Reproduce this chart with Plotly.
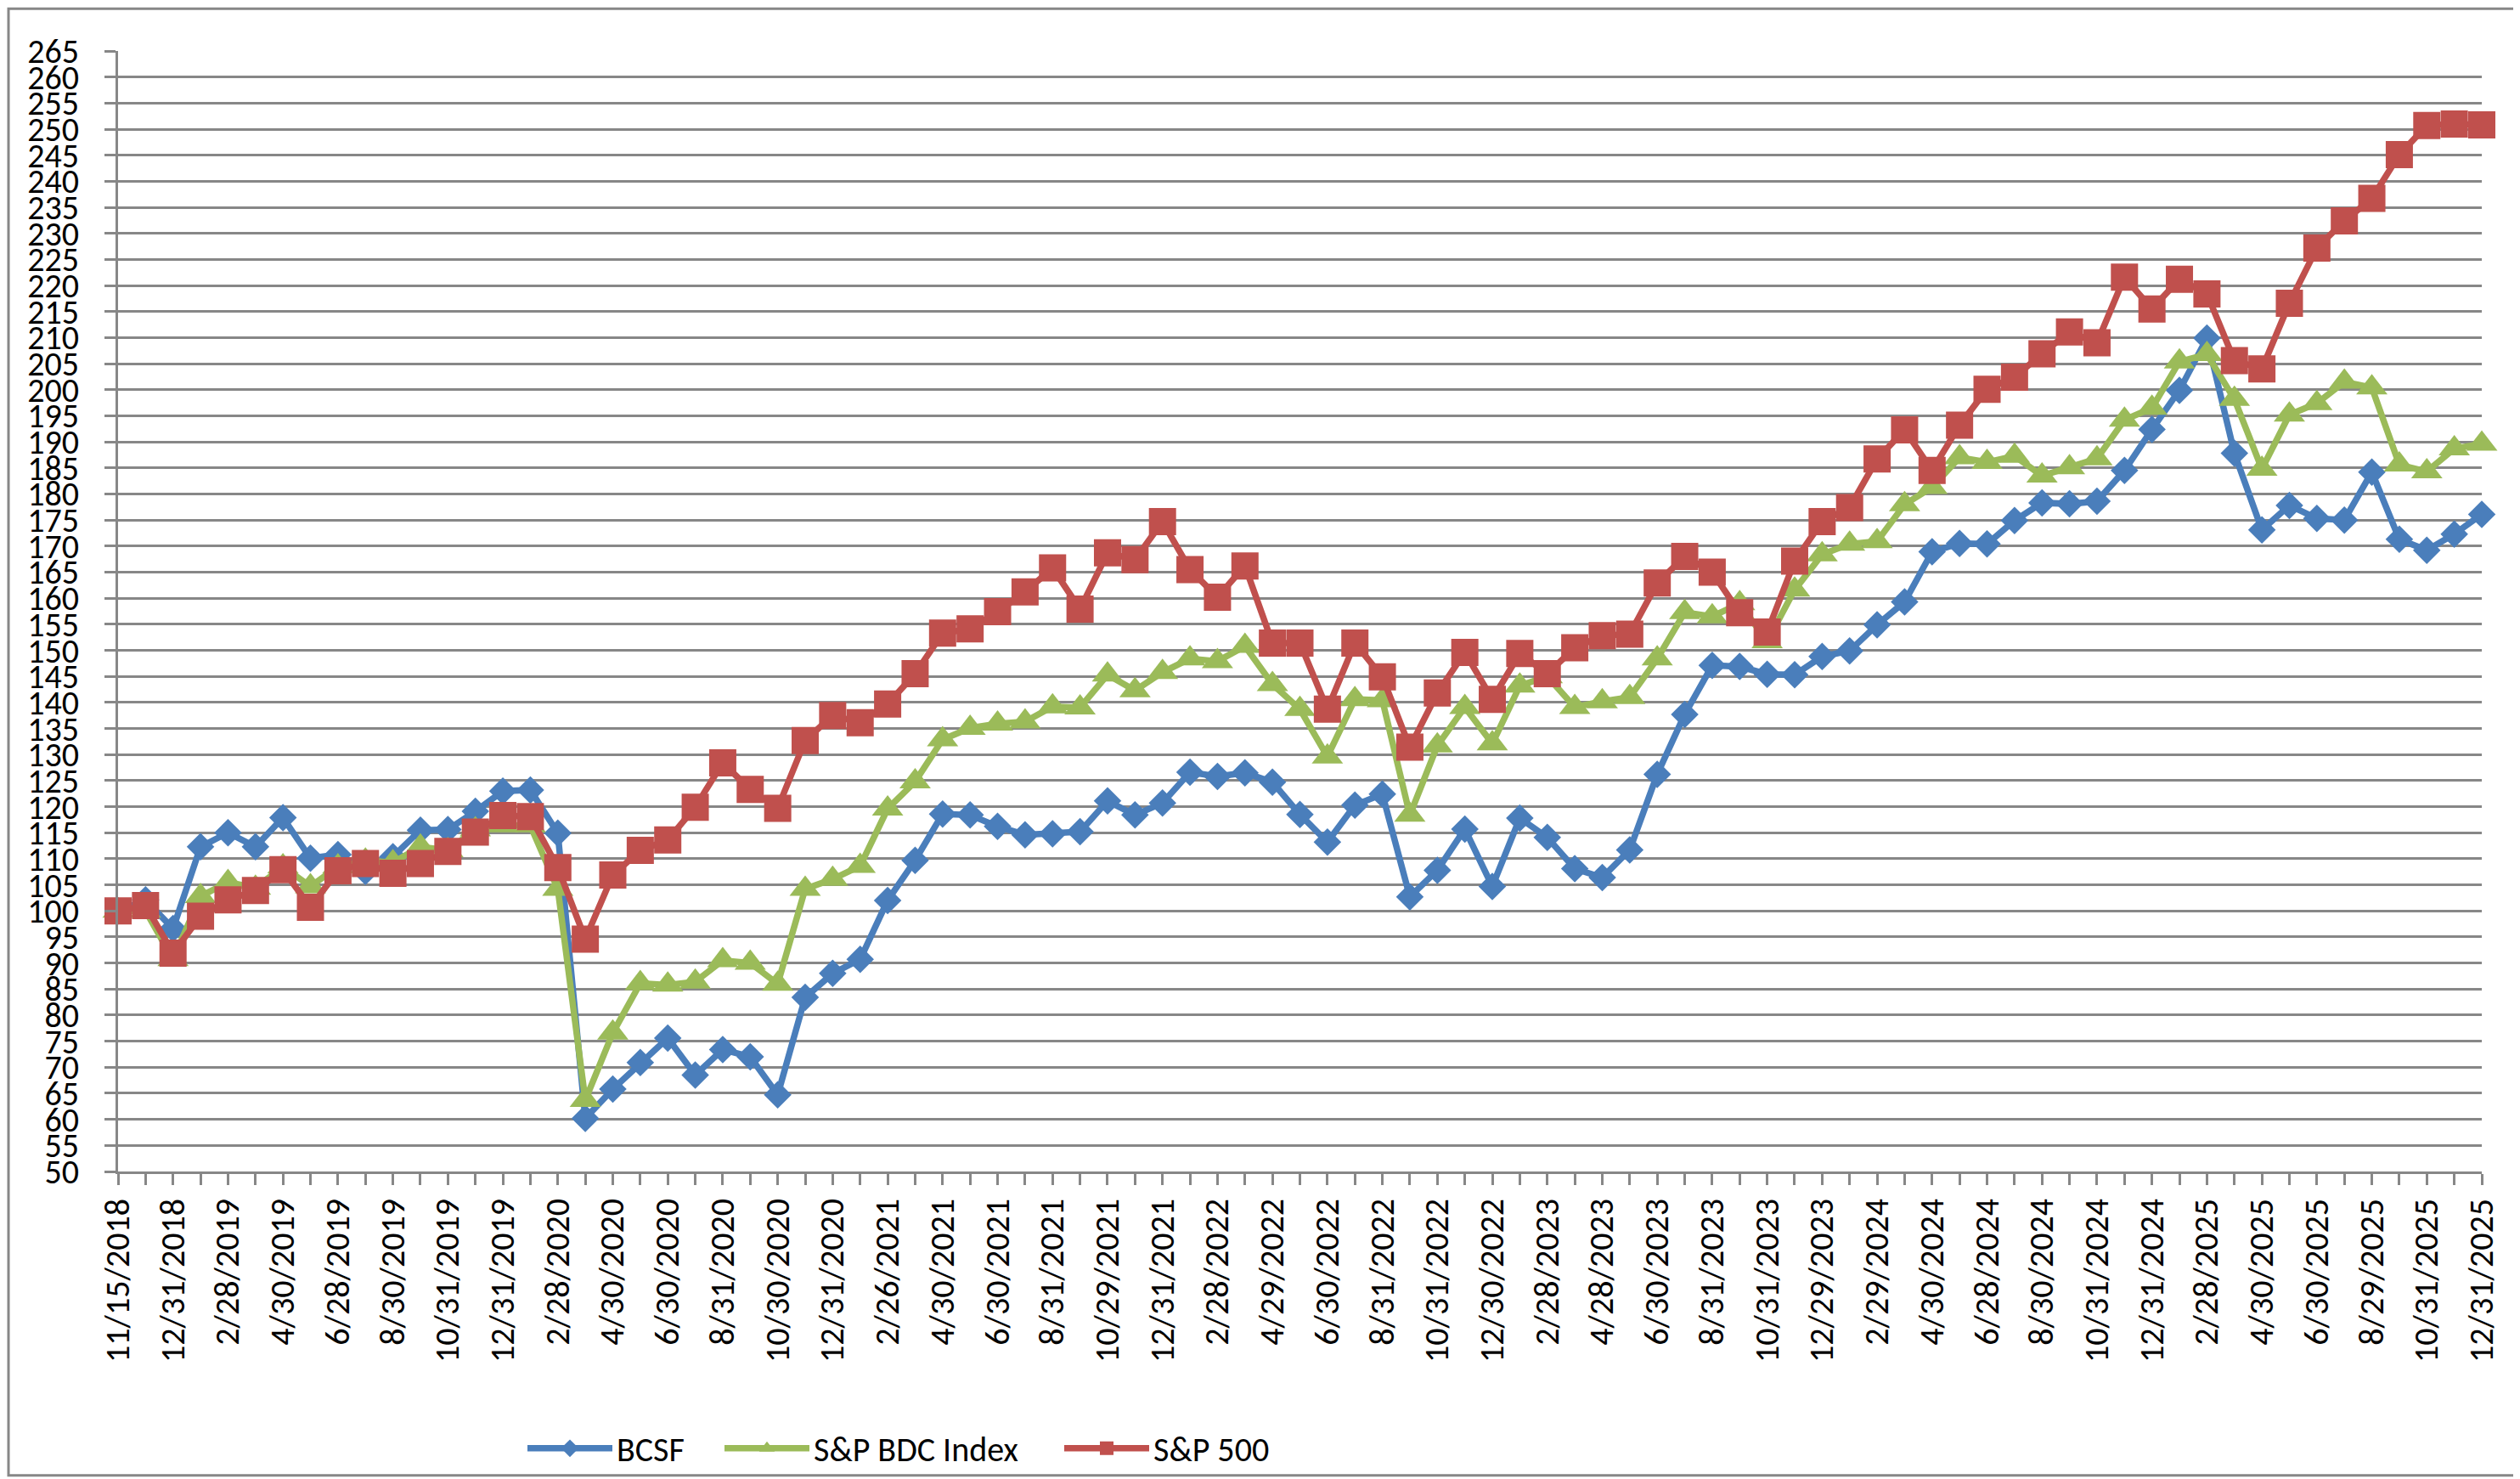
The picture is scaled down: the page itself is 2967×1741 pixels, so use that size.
import plotly.graph_objects as go

dates = [
    "11/15/2018", "11/30/2018", "12/31/2018", "1/31/2019", "2/28/2019", "3/29/2019", "4/30/2019",
    "5/31/2019", "6/28/2019", "7/31/2019", "8/30/2019", "9/30/2019", "10/31/2019", "11/29/2019",
    "12/31/2019", "1/31/2020", "2/28/2020", "3/31/2020", "4/30/2020", "5/29/2020", "6/30/2020",
    "7/31/2020", "8/31/2020", "9/30/2020", "10/30/2020", "11/30/2020", "12/31/2020", "1/29/2021",
    "2/26/2021", "3/31/2021", "4/30/2021", "5/28/2021", "6/30/2021", "7/30/2021", "8/31/2021",
    "9/30/2021", "10/29/2021", "11/30/2021", "12/31/2021", "1/31/2022", "2/28/2022", "3/31/2022",
    "4/29/2022", "5/31/2022", "6/30/2022", "7/29/2022", "8/31/2022", "9/30/2022", "10/31/2022",
    "11/30/2022", "12/30/2022", "1/31/2023", "2/28/2023", "3/31/2023", "4/28/2023", "5/31/2023",
    "6/30/2023", "7/31/2023", "8/31/2023", "9/29/2023", "10/31/2023", "11/30/2023", "12/29/2023",
    "1/31/2024", "2/29/2024", "3/28/2024", "4/30/2024", "5/31/2024", "6/28/2024", "7/31/2024",
    "8/30/2024", "9/30/2024", "10/31/2024", "11/29/2024", "12/31/2024", "1/31/2025", "2/28/2025",
    "3/31/2025", "4/30/2025", "5/30/2025", "6/30/2025", "7/31/2025", "8/29/2025", "9/30/2025",
    "10/31/2025", "11/28/2025", "12/31/2025",
]

bcsf = [
    100, 102.1, 96.6, 112.3, 115.0, 112.3, 117.9, 110.1, 110.8, 107.6, 110.4, 115.5, 115.6, 119.1,
    123.0, 123.2, 114.9, 60.2, 65.8, 70.9, 75.6, 68.5, 73.4, 72.0, 64.7, 83.4, 88.0, 90.7,
    102.0, 109.7, 118.6, 118.4, 116.2, 114.6, 114.8, 115.2, 121.1, 118.4, 120.7, 126.6, 125.8, 126.5,
    124.7, 118.5, 113.2, 120.3, 122.4, 102.7, 107.8, 115.7, 104.7, 117.8, 114.1, 108.1, 106.4, 111.7,
    126.2, 137.7, 147.1, 146.9, 145.4, 145.3, 148.8, 149.9, 154.9, 159.3, 168.9, 170.5, 170.4, 174.9,
    178.3, 178.1, 178.6, 184.5, 192.4, 199.9, 209.9, 187.8, 173.1, 177.8, 175.3, 175.0, 184.2, 171.3,
    169.2, 172.3, 176.1,
]

bdc = [
    100, 100, 90.7, 102.8, 105.5, 104.4, 108.5, 104.7, 108.5, 109.6, 109.3, 112.3, 111.6, 115.6,
    116.4, 116.4, 104.2, 63.7, 76.6, 86.1, 85.8, 86.4, 90.5, 90.0, 86.0, 104.2, 106.1, 108.6,
    119.6, 124.8, 132.9, 135.1, 135.9, 136.3, 139.2, 139.0, 145.3, 142.3, 145.8, 148.4, 147.9, 150.8,
    143.5, 138.7, 129.6, 140.6, 140.4, 118.4, 131.7, 139.1, 132.1, 143.2, 145.0, 139.1, 140.2, 141.0,
    148.4, 157.3, 156.5, 159.0, 151.7, 161.6, 168.4, 170.4, 170.9, 178.0, 181.3, 187.0, 186.1, 187.3,
    183.5, 185.1, 186.8, 194.2, 196.5, 205.4, 206.8, 198.2, 184.8, 195.2, 197.4, 201.5, 200.4, 185.6,
    184.3, 188.7, 189.6,
]

sp500 = [
    100, 101.0, 91.9, 99.0, 102.1, 103.9, 107.9, 100.7, 107.7, 109.1, 107.2, 109.1, 111.4, 115.1,
    118.3, 118.1, 108.3, 94.6, 106.9, 111.6, 113.6, 119.9, 128.4, 123.3, 119.7, 132.7, 137.5, 136.1,
    139.7, 145.5, 153.3, 154.1, 157.4, 161.2, 165.8, 157.9, 168.7, 167.4, 174.7, 165.5, 160.2, 166.2,
    151.4, 151.4, 138.7, 151.4, 144.9, 131.4, 141.8, 149.6, 140.6, 149.4, 145.5, 150.5, 152.8, 153.1,
    162.9, 168.0, 165.0, 157.2, 153.5, 167.1, 174.7, 177.4, 186.7, 192.3, 184.5, 193.2, 200.1, 202.4,
    206.9, 211.1, 209.0, 221.6, 215.5, 221.2, 218.4, 205.6, 204.0, 216.6, 227.2, 232.4, 236.7, 245.1,
    250.7, 251.0, 250.8,
]

series_names = ["BCSF", "S&P BDC Index", "S&P 500"]
tick_text = [d if i % 2 == 0 else "" for i, d in enumerate(dates)]

FONT = "Carlito, Lato, Liberation Sans, sans-serif"
FSIZE = 40
GRID = "#878787"

fig = go.Figure()
fig.add_trace(go.Scatter(
    x=dates, y=bcsf, name=series_names[0], mode="lines+markers",
    line=dict(color="#4A7EBB", width=7.5),
    marker=dict(symbol="diamond", size=25, color="#4A7EBB"),
    cliponaxis=False, legend="legend",
))
fig.add_trace(go.Scatter(
    x=dates, y=bdc, name=series_names[1], mode="lines+markers",
    line=dict(color="#9BBB59", width=7.5),
    marker=dict(symbol="triangle-up", size=32, color="#9BBB59"),
    cliponaxis=False, legend="legend2",
))
fig.add_trace(go.Scatter(
    x=dates, y=sp500, name=series_names[2], mode="lines+markers",
    line=dict(color="#C0504D", width=7.5),
    marker=dict(symbol="square", size=32, color="#C0504D"),
    cliponaxis=False, legend="legend3",
))


def leg(xpos):
    return dict(
        orientation="h", x=xpos, xanchor="left", y=-0.247, yanchor="middle",
        font=dict(family=FONT, size=FSIZE, color="black"),
        itemwidth=100, bgcolor="rgba(0,0,0,0)",
    )


fig.update_layout(
    width=2967, height=1741, autosize=False,
    margin=dict(l=131, r=53, t=52, b=362),
    paper_bgcolor="white", plot_bgcolor="white",
    font=dict(family=FONT, size=FSIZE, color="black"),
    showlegend=True,
    legend=leg((608 - 131) / 2783),
    legend2=leg((840 - 131) / 2783),
    legend3=leg((1240 - 131) / 2783),
    xaxis=dict(
        type="category", range=[0, len(dates) - 1],
        tickmode="array", tickvals=dates, ticktext=tick_text,
        tickangle=-90, ticks="outside", ticklen=13, tickwidth=2.5, tickcolor=GRID,
        showline=True, linecolor=GRID, linewidth=3,
        showgrid=False, zeroline=False, ticklabelstandoff=0,
        tickfont=dict(family=FONT, size=FSIZE, color="black"),
    ),
    yaxis=dict(
        range=[50, 265], dtick=5, tick0=50,
        ticks="outside", ticklen=13, tickwidth=2.5, tickcolor=GRID,
        showline=True, linecolor=GRID, linewidth=3,
        showgrid=True, gridcolor=GRID, gridwidth=2.5, zeroline=False,
        ticklabelstandoff=22,
        tickfont=dict(family=FONT, size=FSIZE, color="black"),
    ),
    shapes=[dict(
        type="rect", xref="paper", yref="paper",
        x0=(2 - 131) / 2783, x1=(2965 - 131) / 2783,
        y0=(1379 - 1739) / 1327, y1=(1379 - 2) / 1327,
        line=dict(color=GRID, width=3), fillcolor="rgba(0,0,0,0)", layer="below",
    )],
)

fig.write_html("out.html")
